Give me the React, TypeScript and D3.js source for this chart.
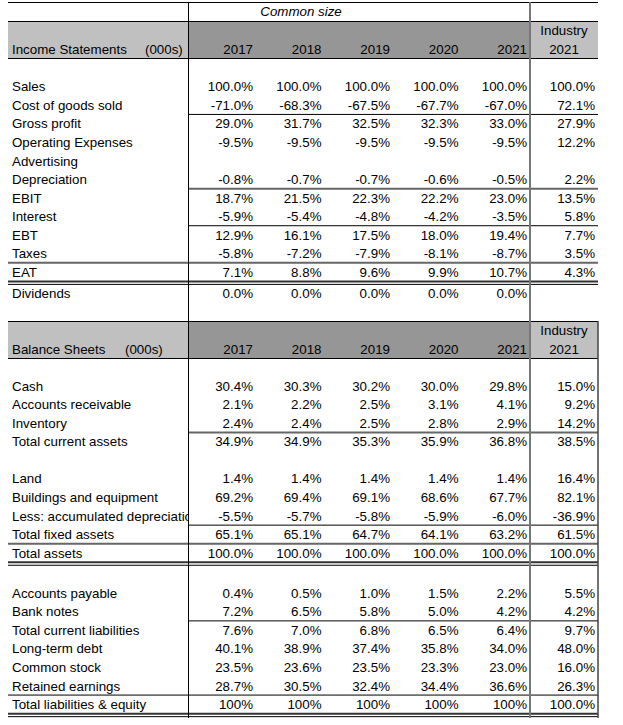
import React from "react";
import * as d3 from "d3";

const years = ["2017", "2018", "2019", "2020", "2021"];
const industryYear = "2021";
const titleText = "Common size";

const incomeLabels = [
  "Sales", "Cost of goods sold", "Gross profit", "Operating Expenses", "Advertising",
  "Depreciation", "EBIT", "Interest", "EBT", "Taxes", "EAT", "Dividends",
];
const income2017 = [100.0, -71.0, 29.0, -9.5, null, -0.8, 18.7, -5.9, 12.9, -5.8, 7.1, 0.0];
const income2018 = [100.0, -68.3, 31.7, -9.5, null, -0.7, 21.5, -5.4, 16.1, -7.2, 8.8, 0.0];
const income2019 = [100.0, -67.5, 32.5, -9.5, null, -0.7, 22.3, -4.8, 17.5, -7.9, 9.6, 0.0];
const income2020 = [100.0, -67.7, 32.3, -9.5, null, -0.6, 22.2, -4.2, 18.0, -8.1, 9.9, 0.0];
const income2021 = [100.0, -67.0, 33.0, -9.5, null, -0.5, 23.0, -3.5, 19.4, -8.7, 10.7, 0.0];
const incomeIndustry = [100.0, 72.1, 27.9, 12.2, null, 2.2, 13.5, 5.8, 7.7, 3.5, 4.3, null];

const balanceLabels = [
  "Cash", "Accounts receivable", "Inventory", "Total current assets", "",
  "Land", "Buildings and equipment", "Less: accumulated depreciation", "Total fixed assets", "Total assets", "",
  "Accounts payable", "Bank notes", "Total current liabilities", "Long-term debt", "Common stock",
  "Retained earnings", "Total liabilities & equity",
];
const balance2017 = [30.4, 2.1, 2.4, 34.9, null, 1.4, 69.2, -5.5, 65.1, 100.0, null, 0.4, 7.2, 7.6, 40.1, 23.5, 28.7, 100];
const balance2018 = [30.3, 2.2, 2.4, 34.9, null, 1.4, 69.4, -5.7, 65.1, 100.0, null, 0.5, 6.5, 7.0, 38.9, 23.6, 30.5, 100];
const balance2019 = [30.2, 2.5, 2.5, 35.3, null, 1.4, 69.1, -5.8, 64.7, 100.0, null, 1.0, 5.8, 6.8, 37.4, 23.5, 32.4, 100];
const balance2020 = [30.0, 3.1, 2.8, 35.9, null, 1.4, 68.6, -5.9, 64.1, 100.0, null, 1.5, 5.0, 6.5, 35.8, 23.3, 34.4, 100];
const balance2021 = [29.8, 4.1, 2.9, 36.8, null, 1.4, 67.7, -6.0, 63.2, 100.0, null, 2.2, 4.2, 6.4, 34.0, 23.0, 36.6, 100];
const balanceIndustry = [15.0, 9.2, 14.2, 38.5, null, 16.4, 82.1, -36.9, 61.5, 100.0, null, 5.5, 4.2, 9.7, 48.0, 16.0, 26.3, 100.0];

const wholePercentRows = ["Total liabilities & equity"];

const FONT = "'Liberation Sans', Arial, Helvetica, sans-serif";
const FS = 13.33;
const LEFT = 8;
const RIGHT = 598;
const DIVX = 188.5;
const INDX = 530;
const ROWH = 18.55;

const xYear = d3.scalePoint<string>().domain(years).range([253, 527]);
const xIndustryRight = 595;

const locale = d3.formatLocale({ decimal: ".", thousands: ",", grouping: [3], currency: ["$", ""], minus: "-" });
const fmt1 = locale.format(".1f");
const fmt0 = locale.format(".0f");

type Line = { row: number; kind: "thin" | "gray" | "double"; full: boolean };

function Section({
  top, headerTitle, unitX, labels, cols, industry, firstY, gapAfter, gapSize, lines, rightBorder,
}: {
  top: number; headerTitle: string; unitX: number; labels: string[]; cols: (number | null)[][];
  industry: (number | null)[]; firstY: number; gapAfter: number; gapSize: number; lines: Line[]; rightBorder: boolean;
}) {
  const bottom = top + 37;
  const rowY = (i: number) => firstY + i * ROWH + (i > gapAfter ? gapSize : 0);
  const lineEls: React.ReactNode[] = [];
  lines.forEach((l, k) => {
    const x1 = l.full ? LEFT : DIVX;
    if (l.kind === "double") {
      const y = rowY(l.row) + 9.3;
      lineEls.push(<line key={`d${k}a`} x1={x1} x2={RIGHT} y1={y} y2={y} stroke="#333" strokeWidth={2} />);
      lineEls.push(<line key={`d${k}b`} x1={x1} x2={RIGHT} y1={y + 3} y2={y + 3} stroke="#000" strokeWidth={1} />);
    } else {
      const y = (rowY(l.row - 1) + rowY(l.row)) / 2;
      lineEls.push(
        <line key={`l${k}`} x1={x1} x2={RIGHT} y1={y} y2={y}
          stroke={l.kind === "gray" ? "#666" : "#000"} strokeWidth={l.kind === "gray" ? 2 : 1} />
      );
    }
  });
  return (
    <g>
      <rect x={LEFT} y={top} width={DIVX - LEFT} height={bottom - top} fill="#c0c0c0" />
      <rect x={DIVX} y={top} width={INDX - DIVX} height={bottom - top} fill="#969696" />
      <rect x={INDX} y={top} width={RIGHT - INDX} height={bottom - top} fill="#c0c0c0" />
      <line x1={LEFT} x2={RIGHT} y1={top + 0.5} y2={top + 0.5} stroke="#000" strokeWidth={1} />
      <line x1={LEFT} x2={RIGHT} y1={bottom + 0.5} y2={bottom + 0.5} stroke="#000" strokeWidth={1} />
      <text x={12} y={bottom - 4} fontSize={FS}>{headerTitle}</text>
      <text x={unitX} y={bottom - 4} fontSize={FS}>(000s)</text>
      {years.map((yr) => (
        <text key={yr} x={xYear(yr)} y={bottom - 4} fontSize={FS} textAnchor="end">{yr}</text>
      ))}
      <text x={(INDX + RIGHT) / 2} y={top + 14} fontSize={FS} textAnchor="middle">Industry</text>
      <text x={(INDX + RIGHT) / 2} y={bottom - 4} fontSize={FS} textAnchor="middle">{industryYear}</text>
      {lineEls}
      {labels.map((lab, i) => (
        <text key={`lab${i}`} x={12} y={rowY(i) + 4.7} fontSize={FS} clipPath="url(#labelClip)">{lab}</text>
      ))}
      {cols.map((vals, c) =>
        vals.map((v, i) =>
          v === null ? null : (
            <text key={`v${c}-${i}`} x={xYear(years[c])} y={rowY(i) + 4.7} fontSize={FS} textAnchor="end">
              {(wholePercentRows.includes(labels[i]) ? fmt0(v) : fmt1(v)) + "%"}
            </text>
          )
        )
      )}
      {industry.map((v, i) =>
        v === null ? null : (
          <text key={`ind${i}`} x={xIndustryRight} y={rowY(i) + 4.7} fontSize={FS} textAnchor="end">
            {fmt1(v) + "%"}
          </text>
        )
      )}
      {rightBorder && (
        <line x1={RIGHT} x2={RIGHT} y1={top} y2={718} stroke="#444" strokeWidth={1.5} />
      )}
    </g>
  );
}

export default function App() {
  const incomeLines: Line[] = [
    { row: 2, kind: "thin", full: false },
    { row: 6, kind: "gray", full: false },
    { row: 8, kind: "thin", full: false },
    { row: 10, kind: "gray", full: true },
    { row: 10, kind: "double", full: true },
  ];
  const balanceLines: Line[] = [
    { row: 3, kind: "gray", full: false },
    { row: 8, kind: "thin", full: false },
    { row: 9, kind: "gray", full: true },
    { row: 9, kind: "double", full: true },
    { row: 13, kind: "thin", full: false },
    { row: 17, kind: "thin", full: true },
    { row: 17, kind: "double", full: true },
  ];
  return (
    <svg width={623} height={725} style={{ position: "absolute", left: 0, top: 0, background: "#fff" }}
      fontFamily={FONT}>
      <defs>
        <clipPath id="labelClip">
          <rect x={0} y={0} width={DIVX} height={725} />
        </clipPath>
      </defs>
      <rect x={0} y={0} width={623} height={725} fill="#fff" />
      <line x1={LEFT} x2={RIGHT} y1={2.5} y2={2.5} stroke="#000" strokeWidth={1} />
      <text x={301} y={16} fontSize={FS} fontStyle="italic" textAnchor="middle">{titleText}</text>
      <Section top={21} headerTitle="Income Statements" unitX={145} labels={incomeLabels}
        cols={[income2017, income2018, income2019, income2020, income2021]} industry={incomeIndustry}
        firstY={86.6} gapAfter={10} gapSize={2.5} lines={incomeLines} rightBorder={false} />
      <Section top={321} headerTitle="Balance Sheets" unitX={125} labels={balanceLabels}
        cols={[balance2017, balance2018, balance2019, balance2020, balance2021]} industry={balanceIndustry}
        firstY={386} gapAfter={9} gapSize={3} lines={balanceLines} rightBorder={true} />
      <line x1={DIVX} x2={DIVX} y1={2} y2={718} stroke="#000" strokeWidth={1} />
      <line x1={INDX} x2={INDX} y1={2} y2={718} stroke="#777" strokeWidth={2} />
    </svg>
  );
}
